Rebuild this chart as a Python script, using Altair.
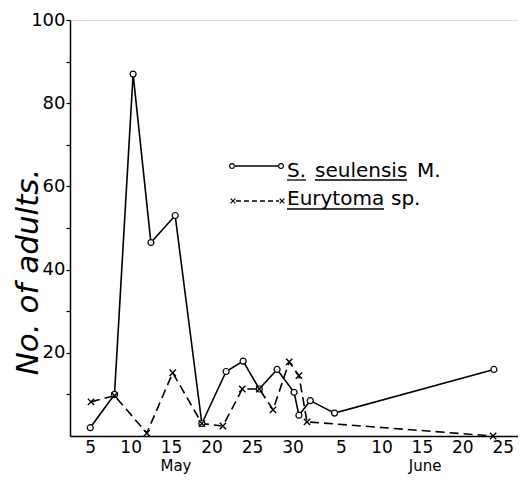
import altair as alt
import pandas as pd

# Days counted from 1 May (June d -> 31 + d)
s_days = [5, 8, 10.3, 12.5, 15.5, 18.8, 21.8, 23.9, 25.9, 28.1, 30.2, 30.8, 32.2, 35.2, 54.9]
s_vals = [2, 10, 87, 46.5, 53, 3, 15.5, 18, 11.3, 16, 10.5, 5, 8.5, 5.5, 16]

e_days = [5.1, 8, 12.0, 15.2, 18.8, 21.4, 23.8, 25.9, 27.6, 29.6, 30.8, 31.8, 54.8]
e_vals = [8.2, 9.7, 0.7, 15.2, 3, 2.4, 11.3, 11.3, 6.3, 17.8, 14.5, 3.4, 0]

tick_days = [5, 10, 15, 20, 25, 30, 36, 41, 46, 51, 56]
y_ticks = [10, 20, 30, 40, 50, 60, 70, 80, 90, 100]
month_names = ["May", "June"]
month_days = [15.6, 46.4]

FONT = "DejaVu Sans"
X_DOMAIN = [2.5, 57.88]
XPATH = "M-1,-1L1,1M-1,1L1,-1"

s_df = pd.DataFrame({"day": s_days, "n": s_vals})
e_df = pd.DataFrame({"day": e_days, "n": e_vals})
m_df = pd.DataFrame({"day": month_days, "m": month_names})
one = pd.DataFrame({"k": [0]})


def xs():
    return alt.Scale(domain=X_DOMAIN, nice=False, zero=False)


def ysc():
    return alt.Scale(domain=[0, 100], nice=False, zero=True)


x_axis = alt.Axis(
    values=tick_days,
    labelExpr="datum.value <= 31 ? datum.value : datum.value - 31",
    ticks=False, grid=False, title=None,
    labelFont=FONT, labelFontSize=17, labelPadding=3, labelColor="black",
    domainColor="black", domainWidth=1.5,
)
y_axis = alt.Axis(
    values=y_ticks,
    labelExpr="datum.value % 20 == 0 ? datum.label : ''",
    tickSize=4, tickColor="black", tickWidth=1.2, grid=False, title=None,
    labelFont=FONT, labelFontSize=18, labelPadding=1, labelColor="black",
    domainColor="black", domainWidth=1.5,
)

s_line = alt.Chart(s_df).mark_line(color="black", strokeWidth=1.6).encode(
    x=alt.X("day:Q", scale=xs(), axis=x_axis),
    y=alt.Y("n:Q", scale=ysc(), axis=y_axis),
)
s_pts = alt.Chart(s_df).mark_point(
    shape="circle", filled=True, fill="white", stroke="black", strokeWidth=1.2, size=36, opacity=1
).encode(x=alt.X("day:Q", scale=xs()), y=alt.Y("n:Q", scale=ysc()))

e_line = alt.Chart(e_df).mark_line(color="black", strokeWidth=1.6, strokeDash=[9, 5]).encode(
    x=alt.X("day:Q", scale=xs()), y=alt.Y("n:Q", scale=ysc())
)
e_pts = alt.Chart(e_df).mark_point(
    shape=XPATH, stroke="black", strokeWidth=1.4, size=40, opacity=1
).encode(x=alt.X("day:Q", scale=xs()), y=alt.Y("n:Q", scale=ysc()))

months = alt.Chart(m_df).mark_text(
    font=FONT, fontSize=15, color="black", baseline="middle", align="center"
).encode(x=alt.X("day:Q", scale=xs()), y=alt.value(446), text="m:N")

ytitle = alt.Chart(one).mark_text(
    font=FONT, fontSize=31, fontStyle="italic", angle=270, color="black",
    align="center", baseline="middle", text="No. of adults."
).encode(x=alt.value(-41), y=alt.value(252))


# manual legend
def txt(t, x, y, size=20):
    return alt.Chart(one).mark_text(
        font=FONT, fontSize=size, color="black", align="left", baseline="alphabetic", text=t
    ).encode(x=alt.value(x), y=alt.value(y))


def rule(x1, x2, y, dash=None, w=1.3):
    kw = dict(color="black", strokeWidth=w)
    if dash:
        kw["strokeDash"] = dash
    return alt.Chart(one).mark_rule(**kw).encode(x=alt.value(x1), x2=alt.value(x2), y=alt.value(y))


def sym(shape, x, y, size):
    if shape == "circle":
        return alt.Chart(one).mark_point(
            shape="circle", filled=True, fill="white", stroke="black", strokeWidth=1.1, size=size, opacity=1
        ).encode(x=alt.value(x), y=alt.value(y))
    return alt.Chart(one).mark_point(
        shape=XPATH, stroke="black", strokeWidth=1.2, size=size, opacity=1
    ).encode(x=alt.value(x), y=alt.value(y))


legend = [
    rule(165, 209, 146, w=1.6),
    sym("circle", 162, 146, 22),
    sym("circle", 211, 146, 22),
    txt("S.", 217, 157),
    txt("seulensis", 245, 157),
    txt("M.", 347, 157),
    rule(217, 236, 160),
    rule(245, 337, 160),
    rule(166, 209, 181, dash=[5, 3], w=1.6),
    sym("x", 163, 181, 22),
    sym("x", 212, 181, 22),
    txt("Eurytoma", 217, 185),
    txt("sp.", 321, 185),
    rule(217, 314, 189),
]

chart = alt.layer(s_line, e_line, s_pts, e_pts, months, ytitle, *legend).properties(
    width=448,
    height=416,
    autosize=alt.AutoSizeParams(type="none"),
    padding={"left": 62, "top": 12, "right": 0, "bottom": 43},
).configure_view(stroke=None).configure(background="white")

chart.save("out.html", embed_options={"renderer": "svg", "actions": False})
